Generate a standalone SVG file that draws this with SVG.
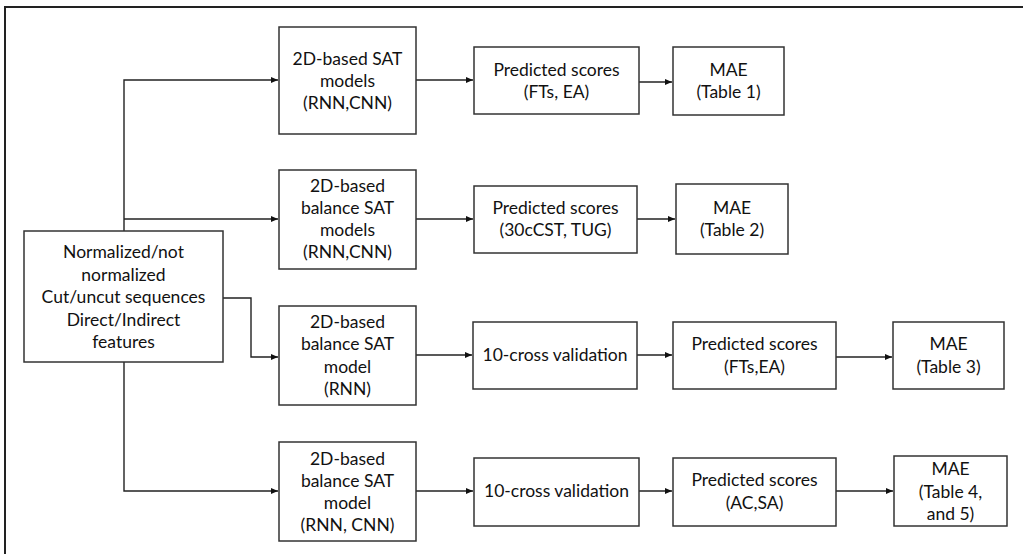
<svg xmlns="http://www.w3.org/2000/svg" width="1023" height="554" viewBox="0 0 1023 554">
<style>
.box{fill:#fff;stroke:#333;stroke-width:1.5}
.t{font-family:Lato,"Open Sans","Liberation Sans",sans-serif;font-size:17.5px;fill:#111;text-anchor:middle}
.c{fill:none;stroke:#222;stroke-width:1.4}
</style>
<defs>
<marker id="ah" markerWidth="7" markerHeight="6" refX="7" refY="3" orient="auto" markerUnits="userSpaceOnUse">
<path d="M0,0 L7,3 L0,6 Z" fill="#111"/>
</marker>
</defs>
<rect width="1023" height="554" fill="#fff"/>
<rect x="5" y="7" width="1040" height="570" fill="none" stroke="#222" stroke-width="2"/>
<g id="connectors">
<path class="c" d="M124,231 V80 H278" marker-end="url(#ah)"/>
<path class="c" d="M124,219 H278" marker-end="url(#ah)"/>
<path class="c" d="M124,362 V491 H278" marker-end="url(#ah)"/>
<path class="c" d="M223,298 H251 V357 H278" marker-end="url(#ah)"/>
<path class="c" d="M416,80 H473" marker-end="url(#ah)"/>
<path class="c" d="M639,82 H672" marker-end="url(#ah)"/>
<path class="c" d="M416,219 H473" marker-end="url(#ah)"/>
<path class="c" d="M637,219 H675" marker-end="url(#ah)"/>
<path class="c" d="M416,355 H472" marker-end="url(#ah)"/>
<path class="c" d="M637,355 H672" marker-end="url(#ah)"/>
<path class="c" d="M836,357 H892" marker-end="url(#ah)"/>
<path class="c" d="M416,491 H473" marker-end="url(#ah)"/>
<path class="c" d="M639,491 H672" marker-end="url(#ah)"/>
<path class="c" d="M836,491 H893" marker-end="url(#ah)"/>
</g>
<g id="source">
<rect class="box" x="24" y="231" width="199" height="131"/>
<text class="t" x="123.5" y="258">Normalized/not</text>
<text class="t" x="123.5" y="280.5">normalized</text>
<text class="t" x="123.5" y="303">Cut/uncut sequences</text>
<text class="t" x="123.5" y="325.5">Direct/Indirect</text>
<text class="t" x="123.5" y="348">features</text>
</g>
<g id="modelA">
<rect class="box" x="279" y="27" width="137" height="107"/>
<text class="t" x="347.5" y="65">2D-based SAT</text>
<text class="t" x="347.5" y="87">models</text>
<text class="t" x="347.5" y="109">(RNN,CNN)</text>
</g>
<g id="modelB">
<rect class="box" x="279" y="170" width="137" height="99"/>
<text class="t" x="347.5" y="192">2D-based</text>
<text class="t" x="347.5" y="214">balance SAT</text>
<text class="t" x="347.5" y="236">models</text>
<text class="t" x="347.5" y="258">(RNN,CNN)</text>
</g>
<g id="modelC">
<rect class="box" x="279" y="306" width="137" height="99"/>
<text class="t" x="347.5" y="328">2D-based</text>
<text class="t" x="347.5" y="350">balance SAT</text>
<text class="t" x="347.5" y="373">model</text>
<text class="t" x="347.5" y="395">(RNN)</text>
</g>
<g id="modelD">
<rect class="box" x="279" y="442" width="137" height="99"/>
<text class="t" x="347.5" y="465">2D-based</text>
<text class="t" x="347.5" y="487">balance SAT</text>
<text class="t" x="347.5" y="509">model</text>
<text class="t" x="347.5" y="531">(RNN, CNN)</text>
</g>
<g id="pred1">
<rect class="box" x="474" y="47" width="165" height="67"/>
<text class="t" x="556.5" y="76">Predicted scores</text>
<text class="t" x="556.5" y="98">(FTs, EA)</text>
</g>
<g id="mae1">
<rect class="box" x="673" y="47" width="111" height="68"/>
<text class="t" x="728.5" y="76">MAE</text>
<text class="t" x="728.5" y="98">(Table 1)</text>
</g>
<g id="pred2">
<rect class="box" x="474" y="186" width="163" height="67"/>
<text class="t" x="555.5" y="214">Predicted scores</text>
<text class="t" x="555.5" y="236">(30cCST, TUG)</text>
</g>
<g id="mae2">
<rect class="box" x="676" y="184" width="112" height="70"/>
<text class="t" x="732" y="214">MAE</text>
<text class="t" x="732" y="236">(Table 2)</text>
</g>
<g id="cv1">
<rect class="box" x="473" y="322" width="164" height="67"/>
<text class="t" x="555" y="361">10-cross validation</text>
</g>
<g id="pred3">
<rect class="box" x="673" y="322" width="163" height="67"/>
<text class="t" x="754.5" y="350">Predicted scores</text>
<text class="t" x="754.5" y="373">(FTs,EA)</text>
</g>
<g id="mae3">
<rect class="box" x="893" y="322" width="111" height="67"/>
<text class="t" x="948.5" y="350">MAE</text>
<text class="t" x="948.5" y="373">(Table 3)</text>
</g>
<g id="cv2">
<rect class="box" x="474" y="458" width="165" height="68"/>
<text class="t" x="556.5" y="497">10-cross validation</text>
</g>
<g id="pred4">
<rect class="box" x="673" y="458" width="163" height="68"/>
<text class="t" x="754.5" y="486">Predicted scores</text>
<text class="t" x="754.5" y="509">(AC,SA)</text>
</g>
<g id="mae4">
<rect class="box" x="894" y="456" width="113" height="70"/>
<text class="t" x="950.5" y="475">MAE</text>
<text class="t" x="950.5" y="498">(Table 4,</text>
<text class="t" x="950.5" y="520">and 5)</text>
</g>
</svg>
